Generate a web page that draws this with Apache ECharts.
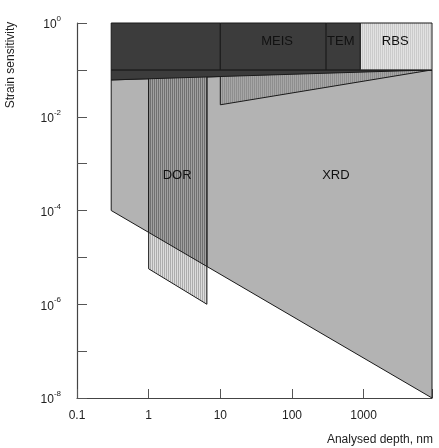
<!DOCTYPE html>
<html><head><meta charset="utf-8">
<script src="https://cdn.jsdelivr.net/npm/echarts@6/dist/echarts.min.js"></script>
<style>html,body{margin:0;padding:0;background:#fff}#c{width:439px;height:448px}</style>
</head><body><div id="c"></div>
<script>
// ---- data (x: analysed depth, nm; y: strain sensitivity) ----
const topBandEdges = [0.3, 10, 300, 900, 9000];   // technique boundaries along top band
const topBandY = [1, 0.1];                          // top / bottom of top band
const wedgeX = [0.3, 9000, 0.3];
const wedgeY = [0.1, 0.1, 0.061];
const xrdX = [0.3, 9000, 9000, 0.3];
const xrdY = [0.061, 0.1, 1e-8, 1e-4];
const triX = [10, 9000, 10];
const triY = [0.1, 0.1, 0.018];
const dorX = [1, 6.5, 6.5, 1];
const dorY = [0.1, 0.1, 1e-6, 5.7e-6];
const labelNames = ['MEIS', 'TEM', 'RBS', 'DOR', 'XRD'];
const labelX = [62, 480, 2760, 2.5, 410];
const labelY = [0.41, 0.41, 0.41, 5.5e-4, 5.5e-4];
const xTickValues = [0.1, 1, 10, 100, 1000];
const xTickLabels = ['0.1', '1', '10', '100', '1000'];
const yLabelExps = [0, -2, -4, -6, -8];
const yLabelTexts = ['10^0', '10^-2', '10^-4', '10^-6', '10^-8'];

// ---- fill patterns (vertical stripes) ----
function stripes(cols) {
  const w = cols.length * 4, h = 4;
  const c = document.createElement('canvas');
  c.width = w; c.height = h;
  const g = c.getContext('2d');
  for (let i = 0; i < w; i++) { g.fillStyle = cols[i % cols.length]; g.fillRect(i, 0, 1, h); }
  return { image: c, repeat: 'repeat' };
}
const fillDark = '#3c3c3c';
const fillRBS = stripes(['#cbcbcb', '#e2e2e2']);
const fillXRD = '#b3b3b3';
const fillTri = stripes(['#8e8e8e', '#a6a6a6']);
const fillDorLow = stripes(['#acacac', '#dcdcdc']);
const fillDorUp = stripes(['#707070', '#a0a0a0']);
const STROKE = '#1a1a1a';
const FONT = '"Liberation Sans", Arial, sans-serif';

function polySeries(xs, ys, fill, z) {
  return {
    type: 'custom', coordinateSystem: 'cartesian2d', z: z, silent: true,
    data: xs.map((x, i) => [x, ys[i]]),
    renderItem: (params, api) => params.dataIndex === 0 ? {
      type: 'polygon',
      shape: { points: xs.map((x, i) => api.coord([x, ys[i]])) },
      style: { fill: fill, stroke: STROKE, lineWidth: 1 }
    } : null
  };
}

// log-interpolated XRD lower edge (points 3 -> 2)
function xrdEdge(x) {
  const lx0 = Math.log10(xrdX[3]), lx1 = Math.log10(xrdX[2]);
  const ly0 = Math.log10(xrdY[3]), ly1 = Math.log10(xrdY[2]);
  const t = (Math.log10(x) - lx0) / (lx1 - lx0);
  return Math.pow(10, ly0 + t * (ly1 - ly0));
}
const dorUpX = [dorX[0], dorX[1], dorX[2], dorX[3]];
const dorUpY = [dorY[0], dorY[1], xrdEdge(dorX[2]), xrdEdge(dorX[3])];

const series = [];
series.push(polySeries(xrdX, xrdY, fillXRD, 1));
series.push(polySeries(triX, triY, fillTri, 2));
series.push(polySeries(dorX, dorY, fillDorLow, 3));
series.push(polySeries(dorUpX, dorUpY, fillDorUp, 4));
series.push(polySeries(wedgeX, wedgeY, fillDark, 5));
for (let k = 0; k < topBandEdges.length - 1; k++) {
  const a = topBandEdges[k], b = topBandEdges[k + 1];
  series.push(polySeries([a, b, b, a], [topBandY[0], topBandY[0], topBandY[1], topBandY[1]],
    k === topBandEdges.length - 2 ? fillRBS : fillDark, 6));
}
series.push({
  type: 'custom', coordinateSystem: 'cartesian2d', z: 10, silent: true,
  data: labelNames.map((n, i) => [labelX[i], labelY[i]]),
  renderItem: (params, api) => {
    const p = api.coord([api.value(0), api.value(1)]);
    return { type: 'text', x: p[0], y: p[1],
      style: { text: labelNames[params.dataIndex], fill: '#111', align: 'center', verticalAlign: 'middle',
        fontSize: 13, fontFamily: FONT } };
  }
});

const chart = echarts.init(document.getElementById('c'), null, { renderer: 'canvas' });
chart.setOption({
  animation: false,
  backgroundColor: '#fff',
  grid: { left: 77, right: 7, top: 23, bottom: 50 },
  xAxis: {
    type: 'log', logBase: 10, min: 0.1, max: 9000, interval: 1,
    axisLine: { lineStyle: { color: '#444', width: 1.2 } },
    axisTick: { inside: true, length: 9, lineStyle: { color: '#555' } },
    splitLine: { show: false },
    axisLabel: {
      margin: 12, color: '#222', fontSize: 12, fontFamily: FONT,
      formatter: v => {
        const i = xTickValues.findIndex(t => Math.abs(Math.log10(t) - Math.log10(v)) < 1e-6);
        return i >= 0 ? xTickLabels[i] : '';
      }
    }
  },
  yAxis: {
    type: 'log', logBase: 10, min: 1e-8, max: 1, interval: 1,
    axisLine: { lineStyle: { color: '#444', width: 1.2 } },
    axisTick: { inside: true, length: 10, lineStyle: { color: '#555' } },
    splitLine: { show: false },
    axisLabel: {
      margin: 16, color: '#222', fontFamily: FONT,
      formatter: v => {
        const e = Math.round(Math.log10(v));
        const i = yLabelExps.indexOf(e);
        if (i < 0) return '';
        const parts = yLabelTexts[i].split('^');
        return '{b|' + parts[0] + '}{s|' + parts[1] + '}';
      },
      rich: {
        b: { fontSize: 12, fontFamily: FONT, color: '#222', lineHeight: 16, verticalAlign: 'bottom' },
        s: { fontSize: 8, fontFamily: FONT, color: '#222', lineHeight: 16, verticalAlign: 'top' }
      }
    }
  },
  graphic: [
    { type: 'text', x: 11, y: 65, rotation: Math.PI / 2,
      style: { text: 'Strain sensitivity', fill: '#222', align: 'center', verticalAlign: 'middle',
        fontSize: 12, fontFamily: FONT } },
    { type: 'text', x: 433, y: 440,
      style: { text: 'Analysed depth, nm', fill: '#222', align: 'right', verticalAlign: 'middle',
        fontSize: 12, fontFamily: FONT } }
  ],
  series: series
});
</script>
</body></html>
